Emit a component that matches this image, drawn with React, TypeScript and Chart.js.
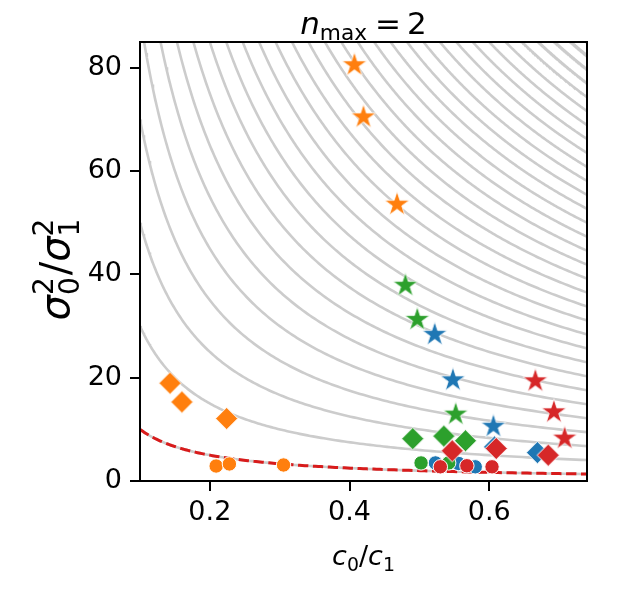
import React, { useEffect, useRef } from 'react';
import { Chart, registerables } from 'chart.js';

Chart.register(...registerables);

// ---- axes ----
const X_MIN = 0.1;
const X_MAX = 0.74;
const Y_MIN = 0;
const Y_MAX = 85;
const xTickValues = [0.2, 0.4, 0.6];
const yTickValues = [0, 20, 40, 60, 80];

// ---- iso-curves y = level / x (gray) and boundary (red dashed) ----
const contourLevels = [1, 3, 5, 7, 9, 11, 13, 15, 17, 19, 21, 23, 25, 27, 29, 31, 33, 35, 37, 39, 41, 43, 45, 47, 49, 51, 53, 55, 57, 59, 61, 63];
const boundaryLevel = 1;

// ---- scatter data [c0/c1, sigma0^2/sigma1^2] ----
const blueStars = [[0.522, 28.5], [0.548, 19.7], [0.606, 10.7]];
const blueDiamonds = [[0.6075, 6.6], [0.669, 5.5]];
const blueCircles = [[0.523, 3.5], [0.556, 3.4], [0.58, 2.75]];

const orangeStars = [[0.407, 80.7], [0.42, 70.6], [0.468, 53.7]];
const orangeDiamonds = [[0.143, 18.95], [0.16, 15.3], [0.224, 12.1]];
const orangeCircles = [[0.209, 2.9], [0.228, 3.3], [0.3055, 3.1]];

const greenStars = [[0.48, 38.0], [0.497, 31.4], [0.552, 13.05]];
const greenDiamonds = [[0.4905, 8.2], [0.535, 8.7], [0.566, 7.8]];
const greenCircles = [[0.5024, 3.5], [0.542, 3.5]];

const redStars = [[0.666, 19.5], [0.6926, 13.5], [0.708, 8.4]];
const redDiamonds = [[0.547, 5.85], [0.61, 6.3], [0.6845, 5.0]];
const redCircles = [[0.53, 2.75], [0.568, 2.95], [0.604, 2.75]];

const BLUE = '#1f77b4';
const ORANGE = '#ff7f0e';
const GREEN = '#2ca02c';
const RED = '#d62728';

const FONT = '"DejaVu Sans", "Liberation Sans", sans-serif';

function curvePoints(level: number) {
  const n = 180;
  const x0 = Math.max(X_MIN, level / (Y_MAX * 1.03));
  const pts: { x: number; y: number }[] = [];
  for (let i = 0; i <= n; i++) {
    const x = x0 * Math.pow(X_MAX / x0, i / n);
    pts.push({ x, y: level / x });
  }
  return pts;
}

function makeStar(fill: string, R: number) {
  const size = Math.ceil(2 * R + 4);
  const c = document.createElement('canvas');
  c.width = size;
  c.height = size;
  const g = c.getContext('2d')!;
  const cx = size / 2;
  const cy = size / 2 + R * 0.05;
  const r = R * 0.381966;
  g.beginPath();
  for (let i = 0; i < 10; i++) {
    const a = -Math.PI / 2 + (i * Math.PI) / 5;
    const rr = i % 2 === 0 ? R : r;
    g.lineTo(cx + rr * Math.cos(a), cy + rr * Math.sin(a));
  }
  g.closePath();
  g.fillStyle = fill;
  g.fill();
  g.strokeStyle = '#ffffff';
  g.lineWidth = 0.8;
  g.stroke();
  return c;
}

function makeDiamond(fill: string, R: number) {
  const size = Math.ceil(2 * R + 4);
  const c = document.createElement('canvas');
  c.width = size;
  c.height = size;
  const g = c.getContext('2d')!;
  const cx = size / 2;
  const cy = size / 2;
  g.beginPath();
  g.moveTo(cx, cy - R);
  g.lineTo(cx + R, cy);
  g.lineTo(cx, cy + R);
  g.lineTo(cx - R, cy);
  g.closePath();
  g.fillStyle = fill;
  g.fill();
  g.strokeStyle = '#ffffff';
  g.lineWidth = 1;
  g.stroke();
  return c;
}

type Run = { t?: string; it?: boolean; s: number; dy?: number; sub?: string; sup?: string; gap?: number };

function fontOf(r: { it?: boolean; s: number }) {
  return `${r.it ? 'italic ' : ''}${r.s}px ${FONT}`;
}

function runWidth(ctx: CanvasRenderingContext2D, r: Run) {
  if (r.gap) return r.gap;
  if (r.sub !== undefined || r.sup !== undefined) {
    ctx.font = fontOf({ s: r.s });
    return Math.max(r.sub ? ctx.measureText(r.sub).width : 0, r.sup ? ctx.measureText(r.sup).width : 0);
  }
  ctx.font = fontOf(r);
  return ctx.measureText(r.t || '').width;
}

function drawMath(ctx: CanvasRenderingContext2D, runs: Run[], cx: number, baseline: number, base: number) {
  ctx.save();
  ctx.fillStyle = '#000';
  ctx.textBaseline = 'alphabetic';
  ctx.textAlign = 'left';
  const widths = runs.map((r) => runWidth(ctx, r));
  const total = widths.reduce((a, b) => a + b, 0);
  let x = cx - total / 2;
  runs.forEach((r, i) => {
    if (r.gap) {
      x += r.gap;
      return;
    }
    if (r.sub !== undefined || r.sup !== undefined) {
      ctx.font = fontOf({ s: r.s });
      if (r.sup) ctx.fillText(r.sup, x, baseline - base * 0.4);
      if (r.sub) ctx.fillText(r.sub, x, baseline + base * 0.26);
    } else {
      ctx.font = fontOf(r);
      ctx.fillText(r.t || '', x, baseline + (r.dy || 0));
    }
    x += widths[i];
  });
  ctx.restore();
}

const framePlugin = {
  id: 'frameAndLabels',
  afterDraw(chart: any) {
    const { ctx, chartArea } = chart;
    const { left, right, top, bottom } = chartArea;
    ctx.save();
    ctx.strokeStyle = '#000';
    ctx.lineWidth = 2;
    ctx.strokeRect(left, top, right - left, bottom - top);
    ctx.restore();

    const midX = (left + right) / 2;
    const midY = (top + bottom) / 2;
    // title
    const T = 31;
    drawMath(
      ctx,
      [
        { t: 'n', it: true, s: T },
        { t: 'max', s: T * 0.7, dy: T * 0.2 },
        { gap: 8 },
        { t: '=', s: T },
        { gap: 6 },
        { t: '2', s: T },
      ],
      midX,
      34,
      T
    );
    // x label
    const L = 27;
    drawMath(
      ctx,
      [
        { t: 'c', it: true, s: L },
        { t: '0', s: L * 0.7, dy: L * 0.22 },
        { t: '/', s: L },
        { t: 'c', it: true, s: L },
        { t: '1', s: L * 0.7, dy: L * 0.22 },
      ],
      midX,
      565,
      L
    );
    // y label (rotated)
    const LY = 40;
    ctx.save();
    ctx.translate(69, midY + 8);
    ctx.rotate(-Math.PI / 2);
    drawMath(
      ctx,
      [
        { t: 'σ', it: true, s: LY },
        { sub: '0', sup: '2', s: LY * 0.7 },
        { gap: LY * 0.05 },
        { t: '/', s: LY },
        { t: 'σ', it: true, s: LY },
        { sub: '1', sup: '2', s: LY * 0.7 },
      ],
      0,
      0,
      LY
    );
    ctx.restore();
  },
};

export default function App() {
  const ref = useRef<HTMLCanvasElement>(null);

  useEffect(() => {
    if (!ref.current) return;
    const starR = 13;
    const diaR = 11.2;
    const circleR = 7.2;

    const layers: any[] = [];
    contourLevels.forEach((lv) => {
      layers.push({
        data: curvePoints(lv),
        showLine: true,
        borderColor: '#cccccc',
        borderWidth: 2.6,
        pointRadius: 0,
        tension: 0,
        fill: false,
      });
    });
    layers.push({
      data: curvePoints(boundaryLevel),
      showLine: true,
      borderColor: '#d81b1b',
      borderWidth: 3,
      borderDash: [10.3, 4.6],
      pointRadius: 0,
      tension: 0,
      fill: false,
    });

    const groups: [string, number[][], number[][], number[][]][] = [
      [BLUE, blueStars, blueDiamonds, blueCircles],
      [ORANGE, orangeStars, orangeDiamonds, orangeCircles],
      [GREEN, greenStars, greenDiamonds, greenCircles],
      [RED, redStars, redDiamonds, redCircles],
    ];
    const toXY = (arr: number[][]) => arr.map(([x, y]) => ({ x, y }));
    groups.forEach(([color, stars, diamonds, circles]) => {
      layers.push({
        data: toXY(stars),
        pointStyle: makeStar(color, starR),
        pointRadius: starR,
        backgroundColor: color,
        borderColor: '#fff',
        showLine: false,
      });
      layers.push({
        data: toXY(diamonds),
        pointStyle: makeDiamond(color, diaR),
        pointRadius: diaR,
        backgroundColor: color,
        borderColor: '#fff',
        showLine: false,
      });
      layers.push({
        data: toXY(circles),
        pointStyle: 'circle',
        pointRadius: circleR,
        backgroundColor: color,
        borderColor: '#ffffff',
        borderWidth: 1,
        showLine: false,
      });
    });
    const n = layers.length;
    layers.forEach((d, i) => {
      d.order = n - i;
    });

    const axisCommon = {
      type: 'linear' as const,
      grid: { drawOnChartArea: false, drawTicks: true, tickLength: 10, color: '#000', lineWidth: 2 },
      border: { display: true, color: '#000', width: 2 },
    };

    const chart = new Chart(ref.current, {
      type: 'scatter',
      data: { datasets: layers },
      options: {
        animation: false,
        responsive: false,
        events: [],
        layout: { padding: { top: 42, right: 43, left: 0, bottom: 0 } },
        plugins: { legend: { display: false }, tooltip: { enabled: false }, title: { display: false } },
        scales: {
          x: {
            ...axisCommon,
            min: X_MIN,
            max: X_MAX,
            afterBuildTicks: (s: any) => {
              s.ticks = xTickValues.map((v) => ({ value: v }));
            },
            afterFit: (s: any) => {
              s.height = 119;
            },
            ticks: {
              color: '#000',
              font: { family: FONT, size: 27 },
              padding: 6,
              maxRotation: 0,
              autoSkip: false,
              callback: (v: any) => Number(v).toFixed(1),
            },
          },
          y: {
            ...axisCommon,
            min: Y_MIN,
            max: Y_MAX,
            afterBuildTicks: (s: any) => {
              s.ticks = yTickValues.map((v) => ({ value: v }));
            },
            afterFit: (s: any) => {
              s.width = 140;
            },
            ticks: {
              color: '#000',
              font: { family: FONT, size: 27 },
              padding: 8,
              autoSkip: false,
              callback: (v: any) => String(v),
            },
          },
        },
      } as any,
      plugins: [framePlugin],
    });
    return () => chart.destroy();
  }, []);

  return (
    <div style={{ position: 'absolute', left: 0, top: 0, width: 630, height: 600, background: '#fff' }}>
      <canvas ref={ref} width={630} height={600} style={{ display: 'block' }} />
    </div>
  );
}
